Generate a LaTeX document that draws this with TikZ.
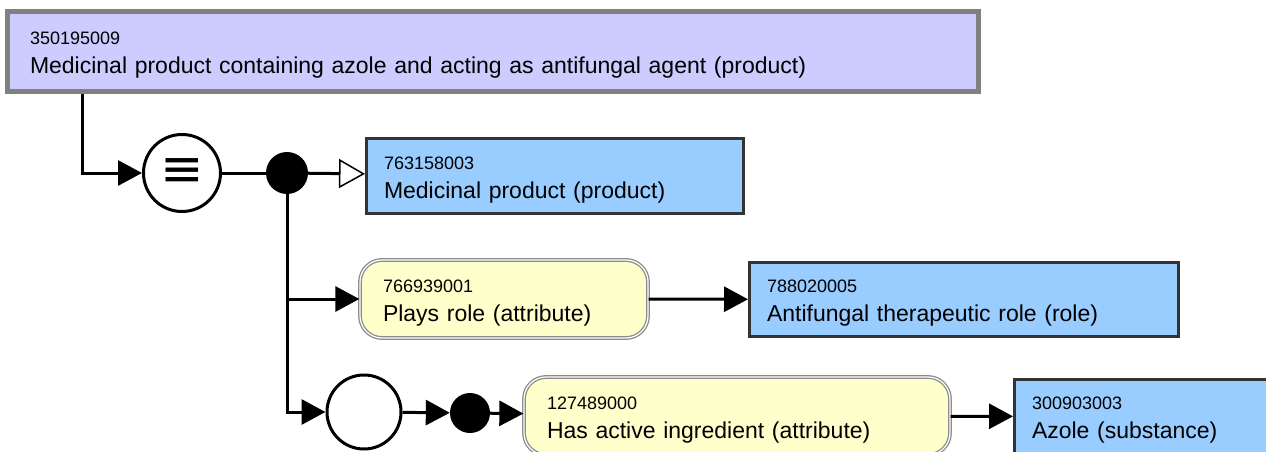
\documentclass[tikz,border=0pt]{standalone}
\usepackage{fontspec}
\setmainfont{Liberation Sans}
\newfontfamily\symbolfont{DejaVu Sans}
\usetikzlibrary{arrows.meta}
\definecolor{defnfill}{HTML}{CCCCFF}
\definecolor{conceptfill}{HTML}{99CCFF}
\definecolor{attrfill}{HTML}{FFFFCC}
\definecolor{darkedge}{HTML}{333333}
\newcommand{\conceptid}[1]{{\fontsize{18}{29}\selectfont\rule{0pt}{20pt}#1}}

\begin{document}
\begin{tikzpicture}[x=1pt,y=-1pt]
\tikzset{
  boxbase/.style={rectangle,align=left,font=\fontsize{23}{29}\selectfont,inner ysep=2pt},
  defnbox/.style={boxbase,draw=black!50,fill=defnfill,line width=5pt,inner xsep=22.5pt},
  conceptbox/.style={boxbase,draw=darkedge,fill=conceptfill,line width=3pt,inner xsep=17.5pt},
  attrbox/.style={boxbase,draw=black!45,double=white,double distance=1.2pt,line width=1.3pt,
    fill=attrfill,rounded corners=22pt,inner xsep=23pt},
  opnode/.style={circle,draw=black,fill=white,line width=3pt,inner sep=0pt},
  joinnode/.style={circle,fill=black,inner sep=0pt},
  graphedge/.style={draw=black,line width=3pt,line join=miter},
  directed/.style={graphedge,-{Triangle[length=24pt,width=25pt]}},
  isa/.style={graphedge,-{Triangle[open,length=26pt,width=29pt,line width=1.5pt]}}
}
\clip (0,0) rectangle (1266,452);
\node[defnbox,minimum width=971pt,minimum height=80pt,text width=926pt] (n_top) at (493,51.5)
  {\conceptid{350195009}\\Medicinal product containing azole and acting as antifungal agent (product)};
\node[opnode,minimum size=77pt,font=\symbolfont\fontsize{52}{52}\selectfont] (n_eq) at (182,173) {≡};
\node[joinnode,minimum size=42pt] (n_dot1) at (287,173) {};
\node[conceptbox,minimum width=377pt,minimum height=75pt,text width=342pt] (n_prod) at (555,176)
  {\conceptid{763158003}\\Medicinal product (product)};
\node[attrbox,minimum width=288pt,minimum height=78pt,text width=242pt] (n_role) at (504,299)
  {\conceptid{766939001}\\Plays role (attribute)};
\node[conceptbox,minimum width=429pt,minimum height=74pt,text width=394pt] (n_antif) at (964,299.5)
  {\conceptid{788020005}\\Antifungal therapeutic role (role)};
\node[opnode,minimum size=74pt] (n_grp) at (364,412) {};
\node[joinnode,minimum size=40pt] (n_dot2) at (470,413) {};
\node[attrbox,minimum width=426pt,minimum height=78pt,text width=380pt] (n_ingr) at (737,416)
  {\conceptid{127489000}\\Has active ingredient (attribute)};
\node[conceptbox,minimum width=297pt,minimum height=74pt,text width=262pt] (n_azole) at (1163,416.5)
  {\conceptid{300903003}\\Azole (substance)};
\draw[directed] ([xshift=77pt]n_top.south west) |- (n_eq);
\draw[graphedge] (n_eq) -- (n_dot1);
\draw[isa] (n_dot1) -- (n_prod);
\draw[directed] (n_dot1) |- (n_role);
\draw[directed] (n_dot1) |- (n_grp);
\draw[directed] (n_role) -- (n_antif);
\draw[directed] (n_grp) -- (n_dot2);
\draw[directed] (n_dot2) -- (n_ingr);
\draw[directed] (n_ingr) -- (n_azole);
\end{tikzpicture}
\end{document}
